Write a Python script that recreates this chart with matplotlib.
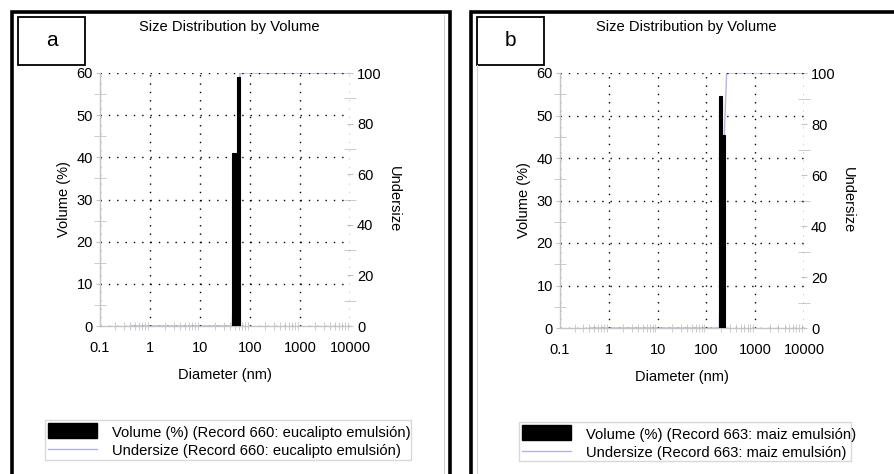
import matplotlib
matplotlib.use("Agg")
import matplotlib.pyplot as plt
from matplotlib.patches import Rectangle
from matplotlib.lines import Line2D
from matplotlib.ticker import FixedLocator, NullFormatter

plt.rcParams['font.family'] = ['Liberation Sans', 'DejaVu Sans']

# size classes (nm) and volume (%) for each sample
a_edges = [44, 54, 63]
a_volume = [41.0, 59.0]
a_under_x = [0.4, 44, 54, 63, 10000]
a_under_y = [0, 0, 41.0, 100, 100]
a_legend = ["Volume (%) (Record 660: eucalipto emulsión)",
            "Undersize (Record 660: eucalipto emulsión)"]

b_edges = [184, 212, 244]
b_volume = [54.5, 45.5]
b_under_x = [0.4, 184, 212, 260, 10000]
b_under_y = [0, 0, 54.5, 100, 100]
b_legend = ["Volume (%) (Record 663: maiz emulsión)",
            "Undersize (Record 663: maiz emulsión)"]

x_ticks = [0.1, 1, 10, 100, 1000, 10000]
x_labels = ["0.1", "1", "10", "100", "1000", "10000"]
vol_ticks = [0, 10, 20, 30, 40, 50, 60]
und_ticks = [0, 20, 40, 60, 80, 100]

W, H = 895, 474
LAV = '#b4b4de'
GRAY = '#c4c4c4'
FS = 10.5

fig = plt.figure(figsize=(W / 100, H / 100), dpi=100)


def fx(x):
    return x / W


def fy(y):
    return 1 - y / H


def rect(x0, y0, x1, y1):
    return [fx(x0), fy(y1), (x1 - x0) / W, (y1 - y0) / H]


def panel(ax_px, edges, vol, ux, uy, letter, box_px, outer_px, leg_px, labels, inner_x, inner_top):
    x0, y0, x1, y1 = ax_px
    ax = fig.add_axes(rect(x0, y0, x1, y1))
    ax2 = ax.twinx()
    ax.set_zorder(ax2.get_zorder() + 1)
    ax.patch.set_visible(False)

    ax.set_xscale('log')
    ax.set_xlim(0.1, 10000)
    ax.set_ylim(0, 60)

    lefts = edges[:-1]
    widths = [edges[i + 1] - edges[i] for i in range(len(edges) - 1)]
    ax.bar(lefts, vol, width=widths, align='edge', color='black',
           edgecolor='black', linewidth=0.8, zorder=3)

    ax.set_xticks(x_ticks)
    ax.set_xticklabels(x_labels, fontsize=FS)
    ax.set_yticks(vol_ticks)
    ax.tick_params(axis='y', labelsize=FS)
    ax.yaxis.set_minor_locator(FixedLocator([5, 15, 25, 35, 45, 55]))
    ax.xaxis.set_minor_formatter(NullFormatter())
    ax.tick_params(which='major', length=3, color=GRAY, direction='out', pad=2)
    ax.tick_params(axis='x', which='major', length=0, pad=11)
    ax.tick_params(which='minor', length=6, color=GRAY, direction='inout')
    ax.tick_params(axis='y', which='minor', length=8, direction='inout')
    ax.grid(True, which='major', color='black', linestyle=(0, (1, 5)), linewidth=1)
    for s in ['left', 'bottom']:
        ax.spines[s].set_color(GRAY)
        ax.spines[s].set_linewidth(1)
    for s in ['top', 'right']:
        ax.spines[s].set_visible(False)
    ax.set_xlabel("Diameter (nm)", fontsize=FS, labelpad=9)
    ax.set_ylabel("Volume (%)", fontsize=FS, labelpad=4)

    ax2.set_ylim(0, 100)
    ax2.plot(ux, uy, color=LAV, linewidth=1, zorder=2)
    ax2.set_yticks(und_ticks)
    ax2.yaxis.set_minor_locator(FixedLocator([10, 30, 50, 70, 90]))
    ax2.tick_params(axis='y', labelsize=FS)
    ax2.tick_params(which='major', length=4, color=GRAY, direction='inout', pad=3)
    ax2.tick_params(which='minor', length=8, color=GRAY, direction='inout')
    for s in ['left', 'bottom', 'top', 'right']:
        ax2.spines[s].set_visible(False)
    ax2.set_ylabel("Undersize", fontsize=FS, rotation=-90, labelpad=14)

    # title
    fig.text(fx((x0 + x1) / 2 + 4), fy(27), "Size Distribution by Volume",
             ha='center', va='center', fontsize=10.6)

    # panel letter box
    bx0, by0, bx1, by1 = box_px
    fig.add_artist(Rectangle((fx(bx0), fy(by1)), (bx1 - bx0) / W, (by1 - by0) / H,
                             transform=fig.transFigure, fill=False,
                             edgecolor='black', linewidth=1.3))
    fig.text(fx((bx0 + bx1) / 2), fy((by0 + by1) / 2), letter,
             ha='center', va='center', fontsize=15)

    # thin inner frame line of the exported chart
    fig.add_artist(Line2D([fx(inner_x)] * 2, [fy(inner_top), fy(H)],
                          transform=fig.transFigure, color='#d0d0d0', linewidth=0.8))

    # outer frame
    ox0, oy0, ox1, oy1 = outer_px
    fig.add_artist(Rectangle((fx(ox0), fy(oy1)), (ox1 - ox0) / W, (oy1 - oy0) / H,
                             transform=fig.transFigure, fill=False,
                             edgecolor='black', linewidth=2.6))

    # legend
    lx0, ly0, lx1, ly1 = leg_px
    fig.add_artist(Rectangle((fx(lx0), fy(ly1)), (lx1 - lx0) / W, (ly1 - ly0) / H,
                             transform=fig.transFigure, fill=False,
                             edgecolor='#d8d8d8', linewidth=1))
    fig.add_artist(Rectangle((fx(lx0 + 3), fy(ly0 + 18)), 49 / W, 15 / H,
                             transform=fig.transFigure, color='black'))
    fig.add_artist(Line2D([fx(lx0 + 3), fx(lx0 + 52)], [fy(ly0 + 28.5)] * 2,
                          transform=fig.transFigure, color=LAV, linewidth=1))
    fig.text(fx(lx0 + 67), fy(ly0 + 13), labels[0], ha='left', va='center', fontsize=10.6)
    fig.text(fx(lx0 + 67), fy(ly0 + 31), labels[1], ha='left', va='center', fontsize=10.6)
    return ax


panel((100, 73, 350, 326), a_edges, a_volume, a_under_x, a_under_y, "a",
      (18, 17, 85, 65), (12, 12, 450, 490), (45, 420, 411, 460), a_legend, 444, 15)
panel((560, 73, 804, 328), b_edges, b_volume, b_under_x, b_under_y, "b",
      (477, 17, 544, 65), (471, 12, 910, 490), (519, 422, 851, 461), b_legend, 477, 65)

fig.savefig("out.png", dpi=100)
